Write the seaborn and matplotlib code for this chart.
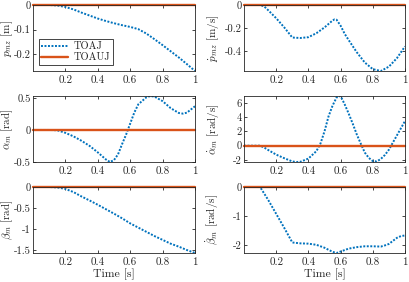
import matplotlib
matplotlib.use("Agg")
import matplotlib.pyplot as plt
import seaborn as sns

BLUE = "#0072BD"
ORANGE = "#D95319"
DARK = "#262626"

# time axis for the constant TOAUJ line
toauj_t = [0.0, 1.0]
toauj_v = [0.0, 0.0]

# p_mz [m]
t_p = [0, 0.1, 0.15, 0.2, 0.25, 0.3, 0.35, 0.4, 0.45, 0.5, 0.55, 0.6, 0.65,
       0.7, 0.75, 0.8, 0.85, 0.9, 0.95, 1.0]
p_mz = [0, 0, -0.002, -0.008, -0.018, -0.031, -0.043, -0.055, -0.065, -0.074,
        -0.082, -0.089, -0.098, -0.116, -0.139, -0.163, -0.188, -0.213, -0.24, -0.268]

# p_mz dot [m/s]
t_pd = [0, 0.1, 0.125, 0.15, 0.2, 0.25, 0.3, 0.35, 0.4, 0.45, 0.5, 0.525, 0.55,
        0.5625, 0.575, 0.6, 0.625, 0.65, 0.7, 0.75, 0.8, 0.85, 0.9, 0.95, 1.0]
p_mz_dot = [0, 0, -0.012, -0.045, -0.115, -0.195, -0.283, -0.287, -0.28, -0.245,
            -0.195, -0.165, -0.135, -0.125, -0.128, -0.18, -0.25, -0.305, -0.41,
            -0.5, -0.558, -0.574, -0.536, -0.462, -0.36]

# alpha_m [rad]
t_a = [0, 0.1, 0.15, 0.2, 0.25, 0.3, 0.35, 0.4, 0.45, 0.475, 0.5, 0.525, 0.55,
       0.575, 0.6, 0.625, 0.65, 0.7, 0.725, 0.75, 0.8, 0.85, 0.9, 0.925, 0.95, 1.0]
alpha_m = [0, 0, -0.005, -0.045, -0.1, -0.17, -0.25, -0.35, -0.46, -0.5, -0.47,
           -0.38, -0.22, -0.07, 0.1, 0.27, 0.4, 0.51, 0.53, 0.52, 0.45, 0.34,
           0.265, 0.255, 0.27, 0.37]

# alpha_m dot [rad/s]
t_ad = [0, 0.1, 0.125, 0.15, 0.2, 0.25, 0.3, 0.325, 0.35, 0.4, 0.45, 0.475, 0.5,
        0.525, 0.55, 0.575, 0.6, 0.625, 0.65, 0.675, 0.7, 0.725, 0.75, 0.775,
        0.8, 0.825, 0.85, 0.875, 0.9, 0.925, 0.95, 0.975, 1.0]
alpha_m_dot = [0, 0, -0.25, -0.6, -1.25, -1.75, -2.2, -2.28, -2.25, -1.8, -0.75,
               0.3, 2.0, 4.1, 5.6, 6.75, 6.95, 5.8, 4.5, 3.1, 1.6, 0.3, -0.95,
               -1.7, -2.15, -2.2, -1.85, -1.3, -0.56, 0.45, 1.45, 2.45, 3.45]

# beta_m [rad]
t_b = [0, 0.1, 0.15, 0.2, 0.25, 0.3, 0.35, 0.4, 0.45, 0.5, 0.55, 0.6, 0.65,
       0.7, 0.75, 0.8, 0.85, 0.9, 0.95, 1.0]
beta_m = [0, 0, -0.01, -0.045, -0.12, -0.225, -0.32, -0.42, -0.525, -0.63, -0.74,
          -0.86, -0.96, -1.06, -1.16, -1.25, -1.34, -1.41, -1.49, -1.56]

# beta_m dot [rad/s]
t_bd = [0, 0.1, 0.15, 0.2, 0.25, 0.3, 0.35, 0.4, 0.45, 0.5, 0.55, 0.575, 0.6,
        0.65, 0.7, 0.75, 0.8, 0.85, 0.875, 0.9, 0.95, 0.975, 1.0]
beta_m_dot = [0, 0, -0.44, -0.92, -1.4, -1.9, -1.93, -1.94, -1.98, -2.08, -2.22,
              -2.26, -2.21, -2.11, -2.06, -2.03, -2.03, -2.04, -2.0, -1.95, -1.74,
              -1.68, -1.66]

xticks = [0.2, 0.4, 0.6, 0.8, 1.0]
xticklabels = ["0.2", "0.4", "0.6", "0.8", "1"]

panels = [
    (t_p, p_mz, [-0.2, -0.1, 0], ["-0.2", "-0.1", "0"], r"$p_{mz}$ [m]"),
    (t_pd, p_mz_dot, [-0.4, -0.2, 0], ["-0.4", "-0.2", "0"], r"$\dot{p}_{mz}$ [m/s]"),
    (t_a, alpha_m, [-0.5, 0, 0.5], ["-0.5", "0", "0.5"], r"$\alpha_m$ [rad]"),
    (t_ad, alpha_m_dot, [-2, 0, 2, 4, 6], ["-2", "0", "2", "4", "6"], r"$\dot{\alpha}_m$ [rad/s]"),
    (t_b, beta_m, [-1.5, -1, -0.5, 0], ["-1.5", "-1", "-0.5", "0"], r"$\beta_m$ [rad]"),
    (t_bd, beta_m_dot, [-2, -1, 0], ["-2", "-1", "0"], r"$\dot{\beta}_m$ [rad/s]"),
]

sns.set_style("ticks")
plt.rcParams.update({
    "font.family": "cmr10",
    "mathtext.fontset": "cm",
    "axes.unicode_minus": False,
    "axes.edgecolor": DARK,
    "axes.linewidth": 0.6,
})

W, H = 409, 282
fig = plt.figure(figsize=(W / 100, H / 100), dpi=100)

col_x = [(33, 162), (244, 161)]
row_y = [5, 96, 187]
row_h = 66

for i, (t, vals, yt, ytl, ylab) in enumerate(panels):
    r, c = divmod(i, 2)
    x0, w = col_x[c]
    ax = fig.add_axes([x0 / W, 1 - (row_y[r] + row_h) / H, w / W, row_h / H])

    sns.lineplot(x=t, y=vals, ax=ax, color=BLUE, lw=1.4, linestyle=(0, (1, 0.8)),
                 errorbar=None, label="TOAJ")
    sns.lineplot(x=toauj_t, y=toauj_v, ax=ax, color=ORANGE, lw=1.7,
                 errorbar=None, label="TOAUJ", clip_on=False)

    ax.set_xlim(0, 1)
    ax.set_ylim(min(vals), max(max(vals), 0))
    ax.set_xticks(xticks)
    ax.set_xticklabels(xticklabels)
    ax.set_yticks(yt)
    ax.set_yticklabels(ytl)
    ax.tick_params(direction="in", length=2.5, width=0.6, top=True, right=True,
                   labelsize=8, pad=3, color=DARK, labelcolor=DARK)
    ax.tick_params(axis="y", pad=1.5, labelsize=7.6)
    for sp in ax.spines.values():
        sp.set_color(DARK)
        sp.set_linewidth(0.6)

    ax.set_ylabel(ylab, fontsize=8, color=DARK)
    ax.yaxis.set_label_coords(-0.112 if c == 0 else -0.14, 0.5)
    if r == 2:
        ax.set_xlabel("Time [s]", fontsize=8.5, color=DARK)
        ax.xaxis.set_label_coords(0.5, -0.235)
    else:
        ax.set_xlabel("")

    if i == 0:
        leg = ax.legend(loc="lower left", bbox_to_anchor=(0.035, 0.09), fontsize=7.5,
                        frameon=True, fancybox=False, edgecolor=DARK, framealpha=1,
                        borderpad=0.25, labelspacing=0.15, handlelength=2.6,
                        handletextpad=0.5, borderaxespad=0)
        leg.get_frame().set_linewidth(0.6)
    elif ax.get_legend() is not None:
        ax.get_legend().remove()

fig.savefig("out.png", dpi=100)
